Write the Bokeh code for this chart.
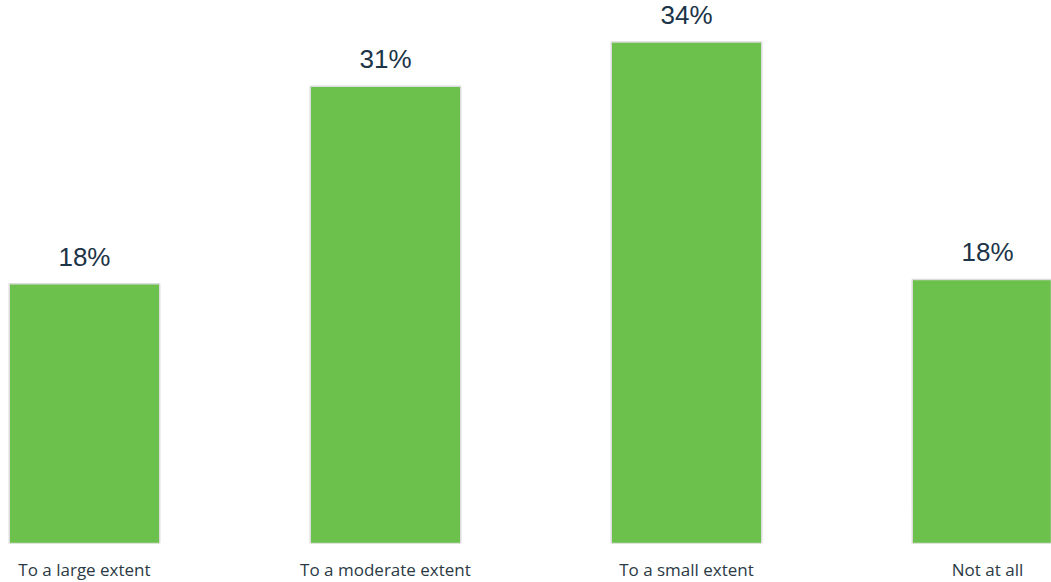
from bokeh.plotting import figure
from bokeh.models import Range1d, ColumnDataSource, FixedTicker, LabelSet
from bokeh.core.properties import value
from bokeh.embed import file_html
from bokeh.resources import INLINE

categories = ["To a large extent", "To a moderate extent", "To a small extent", "Not at all"]
values = [17.6, 31.0, 34.0, 17.9]
labels = ["18%", "31%", "34%", "18%"]

xs = list(range(len(categories)))
src = ColumnDataSource(dict(x=xs, top=values, label=labels))

p = figure(frame_width=1051, frame_height=543, output_backend="svg", toolbar_location=None,
           x_range=Range1d(-0.279, 3.2126), y_range=Range1d(0, 36.81),
           min_border_left=0, min_border_right=0, min_border_top=0, min_border_bottom=0)
p.outline_line_color = None
p.background_fill_color = "white"
p.border_fill_color = "white"
p.grid.visible = False
p.yaxis.visible = False

p.vbar(x="x", top="top", width=0.5, bottom=0, source=src,
       fill_color="#6cc04c", line_color="#dcdcdc", line_width=1.5)

p.add_layout(LabelSet(x="x", y="top", text="label", source=src, text_align="center",
                      text_baseline="alphabetic", y_offset=18,
                      text_font=value("Liberation Sans"),
                      text_font_size="26px", text_color="#1b3447"))

p.xaxis.ticker = FixedTicker(ticks=xs)
p.xaxis.major_label_overrides = {i: c for i, c in enumerate(categories)}
p.xaxis.axis_line_color = None
p.xaxis.major_tick_line_color = None
p.xaxis.minor_tick_line_color = None
p.xaxis.major_tick_out = 0
p.xaxis.major_tick_in = 0
p.xaxis.major_label_standoff = 14
p.xaxis.major_label_text_font = "Open Sans"
p.xaxis.major_label_text_font_size = "17px"
p.xaxis.major_label_text_color = "#2b3a45"

open("out.html", "w").write(file_html(p, INLINE))
